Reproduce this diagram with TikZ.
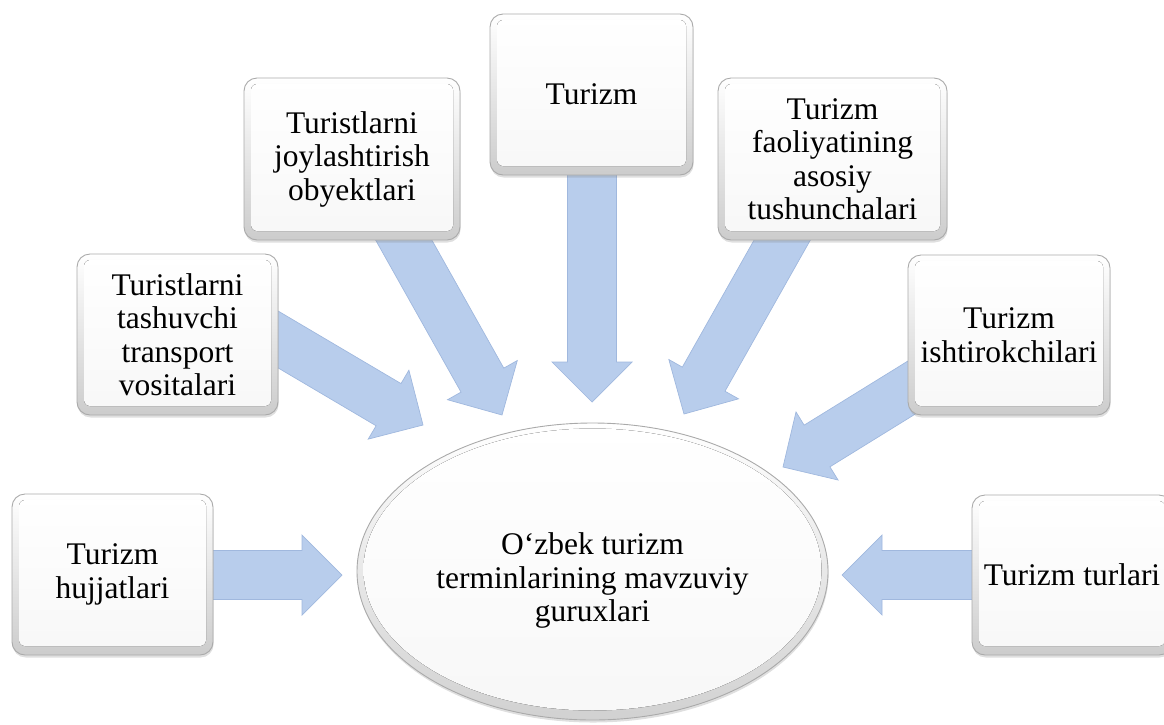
\documentclass[tikz,border=0pt]{standalone}
\usepackage{fontspec}
\setmainfont{Liberation Serif}
\usetikzlibrary{calc,shadows,shapes.geometric}
\pgfdeclarelayer{background}
\pgfsetlayers{background,main}
\definecolor{arrfill}{RGB}{184,205,236}
\definecolor{arrline}{RGB}{160,184,222}
\definecolor{rim}{RGB}{170,170,170}
\newcommand{\boxfont}{\fontsize{31.5}{33.5}\selectfont}
\newcommand{\blockarr}[2]{%
  \coordinate (#1-b) at ($(#2)!40pt!(#1)$);
  \filldraw[blockarrow] ($(#1)!24.5pt!90:(#2)$) -- ($(#1-b)!24.5pt!-90:(#1)$) -- ($(#1-b)!40pt!-90:(#1)$) -- (#2) -- ($(#1-b)!40pt!90:(#1)$) -- ($(#1-b)!24.5pt!90:(#1)$) -- ($(#1)!24.5pt!-90:(#2)$) -- cycle;}
\tikzset{
  box/.style={draw=rim, line width=0.9pt, rounded corners=13pt, top color=white, bottom color=black!20,
    drop shadow={shadow xshift=0.6pt, shadow yshift=-2.5pt, opacity=0.25},
    align=center, font=\boxfont, inner sep=0pt,
    path picture={\fill[rounded corners=6pt, top color=white, bottom color=black!3]
      ([shift={(7pt,-6pt)}]path picture bounding box.north west) rectangle
      ([shift={(-7pt,9pt)}]path picture bounding box.south east);}},
  hub/.style={ellipse, draw=rim, line width=0.9pt, top color=white, bottom color=black!18,
    drop shadow={shadow xshift=0.6pt, shadow yshift=-2.5pt, opacity=0.25},
    inner sep=0pt, minimum width=471pt, minimum height=297pt,
    path picture={\fill[top color=white, bottom color=black!3]
      ([yshift=2pt]path picture bounding box.center) ellipse [x radius=229pt, y radius=141pt];}},
  hubtext/.style={align=center, font=\boxfont, yshift=-9pt},
  blockarrow/.style={fill=arrfill, draw=arrline, line width=0.7pt, line join=miter}
}
\begin{document}
\begin{tikzpicture}[x=1pt, y=-1pt]
\useasboundingbox (0,0) rectangle (1164,724);
% boxes
\node[box, minimum width=201pt, minimum height=161pt] (b1) at (177.5,334.5) {Turistlarni\\tashuvchi\\transport\\vositalari};
\node[box, minimum width=216pt, minimum height=162pt] (b2) at (352,159) {Turistlarni\\joylashtirish\\obyektlari};
\node[box, minimum width=203pt, minimum height=161pt] (b3) at (591.5,94.5) {Turizm};
\node[box, minimum width=229pt, minimum height=162pt] (b4) at (832.5,159) {Turizm\\faoliyatining\\asosiy\\tushunchalari};
\node[box, minimum width=202pt, minimum height=160pt] (b5) at (1009,335) {Turizm\\ishtirokchilari};
\node[box, minimum width=201pt, minimum height=161pt] (b6) at (112.5,574.5) {Turizm\\hujjatlari};
\node[box, minimum width=200pt, minimum height=160pt] (b7) at (1072,575) {Turizm turlari};
% hub
\node[hub, label={[hubtext]center:O‘zbek turizm\\terminlarining mavzuviy\\guruxlari}] (hub) at (592.5,571.5) {};
% arrow end points
\coordinate (s1) at ($(b1.east)+(-13,-2.5)$);
\coordinate (t1) at (423,425);
\coordinate (s2) at ($(b2.south)+(40.5,-20.4)$);
\coordinate (t2) at (502,415);
\coordinate (s3) at ($(b3.south)+(0.5,-10)$);
\coordinate (t3) at (592,402);
\coordinate (s4) at ($(b4.south)+(-39,-20.4)$);
\coordinate (t4) at (684,414);
\coordinate (s5) at ($(b5.west)+(13,47)$);
\coordinate (t5) at (783,467);
\coordinate (s6) at ($(b6.east)+(-13,0.5)$);
\coordinate (t6) at (342,575);
\coordinate (s7) at ($(b7.west)+(13,0)$);
\coordinate (t7) at (842,575);
\begin{pgfonlayer}{background}
\blockarr{s1}{t1}
\blockarr{s2}{t2}
\blockarr{s3}{t3}
\blockarr{s4}{t4}
\blockarr{s5}{t5}
\blockarr{s6}{t6}
\blockarr{s7}{t7}
\end{pgfonlayer}
\end{tikzpicture}
\end{document}
